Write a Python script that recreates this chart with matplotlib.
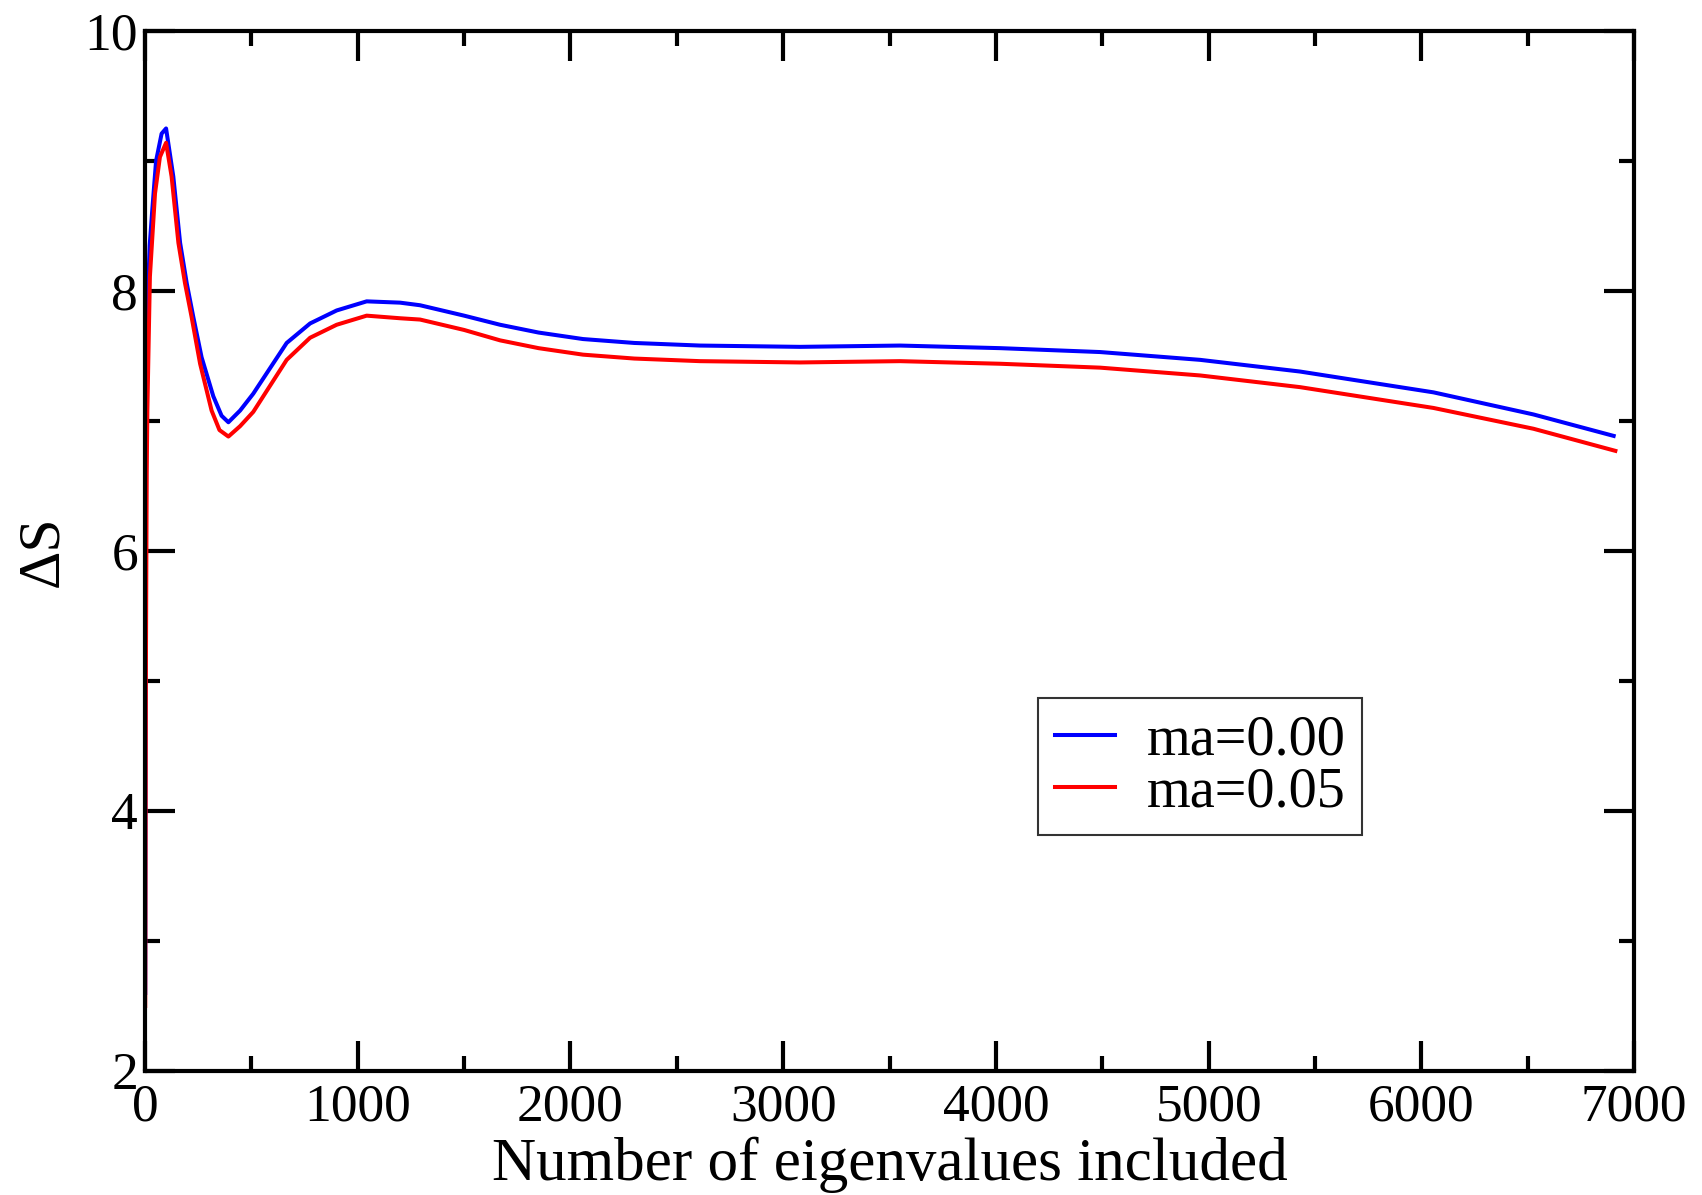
import numpy as np
import matplotlib.pyplot as plt
from matplotlib.ticker import MultipleLocator

# values
n_blue = [1, 3, 6, 12, 22, 34, 52, 78, 99, 133, 165, 196, 227, 266, 321, 360, 392, 447,
          509, 525, 666, 776, 901, 1042, 1199, 1293, 1500, 1669, 1850, 2059, 2300, 2609,
          3079, 3549, 4020, 4490, 4960, 5430, 5900, 6057, 6527, 6904]
ds_blue = [2.6, 5.5, 7.0, 7.9, 8.35, 8.62, 9.0, 9.21, 9.25, 8.88, 8.37, 8.06, 7.80, 7.49,
           7.19, 7.04, 6.99, 7.08, 7.21, 7.25, 7.60, 7.75, 7.85, 7.92, 7.91, 7.89, 7.81,
           7.74, 7.68, 7.63, 7.60, 7.58, 7.57, 7.58, 7.56, 7.53, 7.47, 7.38, 7.26, 7.22,
           7.05, 6.885]

n_red = [1, 4, 8, 11, 23, 47, 70, 99, 125, 157, 188, 219, 259, 313, 350, 392, 447, 509,
         666, 776, 901, 1042, 1199, 1293, 1500, 1669, 1850, 2059, 2300, 2609, 3079, 3549,
         4020, 4490, 4960, 5430, 5900, 6057, 6527, 6912]
ds_red = [2.5, 5.0, 6.6, 7.08, 8.11, 8.75, 9.03, 9.14, 8.88, 8.37, 8.06, 7.80, 7.44, 7.08,
          6.93, 6.88, 6.96, 7.07, 7.47, 7.64, 7.74, 7.81, 7.79, 7.78, 7.70, 7.62, 7.56,
          7.51, 7.48, 7.46, 7.45, 7.46, 7.44, 7.41, 7.35, 7.26, 7.14, 7.10, 6.94, 6.77]

labels = ["ma=0.00", "ma=0.05"]

plt.rcParams['font.family'] = ['Liberation Serif', 'DejaVu Serif']

fig = plt.figure(figsize=(17.02, 11.95), dpi=100)
ax = fig.add_axes([0.0852, 0.1038, 0.8749, 0.8703])

ax.plot(n_blue, ds_blue, color='#0000ff', lw=2.9, label=labels[0])
ax.plot(n_red, ds_red, color='#ff0000', lw=2.9, label=labels[1])

ax.set_xlim(0, 7000)
ax.set_ylim(2, 10)
ax.xaxis.set_major_locator(MultipleLocator(1000))
ax.xaxis.set_minor_locator(MultipleLocator(500))
ax.yaxis.set_major_locator(MultipleLocator(2))
ax.yaxis.set_minor_locator(MultipleLocator(1))

ax.tick_params(which='both', direction='in', top=True, right=True, width=3,
               labelsize=38.5, pad=5)
ax.tick_params(axis='x', which='both', pad=9)
ax.tick_params(which='major', length=21.5)
ax.tick_params(which='minor', length=10.8)
for s in ax.spines.values():
    s.set_linewidth(3)

ax.set_xlabel("Number of eigenvalues included", fontsize=44, labelpad=4)
ax.set_ylabel("ΔS", fontsize=43, labelpad=10)

leg = ax.legend(loc='upper left', bbox_to_anchor=(0.600, 0.359), borderaxespad=0,
                fontsize=40.5, frameon=True, fancybox=False, handlelength=1.06,
                handletextpad=0.56, labelspacing=0.0, borderpad=0.3)
leg.get_frame().set_edgecolor('black')
leg.get_frame().set_linewidth(1.5)

fig.savefig("out.png", dpi=100)
